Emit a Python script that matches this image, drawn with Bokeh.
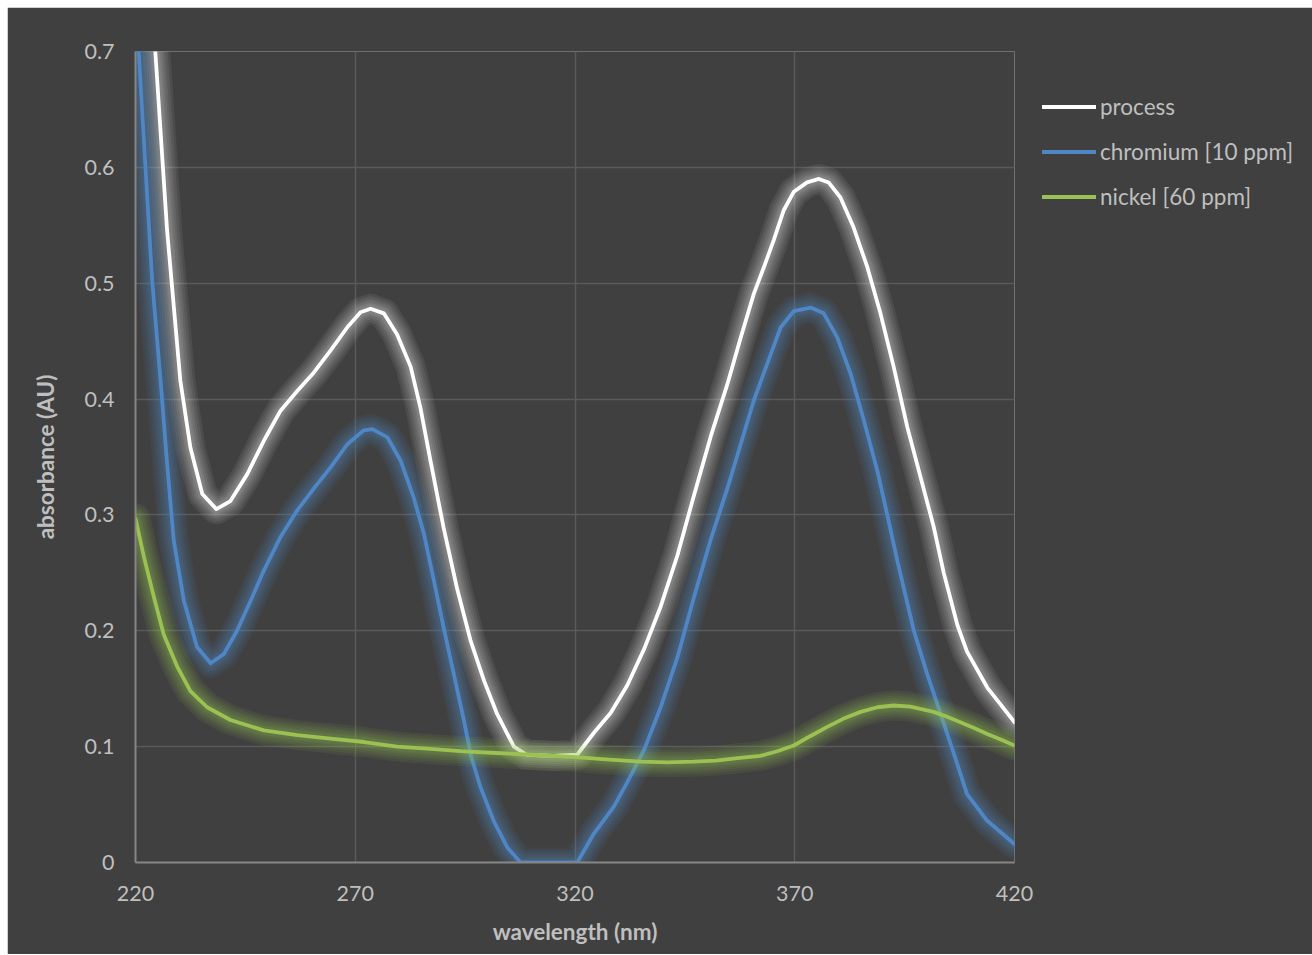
from bokeh.plotting import figure
from bokeh.models import Legend, LegendItem, FixedTicker, ColumnDataSource
from bokeh.embed import file_html
from bokeh.resources import INLINE

# ---------------- data ----------------
process_nm = [220, 222, 224.5, 227.2, 230.2, 232.5, 235.2, 238.4, 241.6, 245.4, 249.2, 253, 256.8,
              260.6, 264.4, 268.2, 271.2, 273.5, 276.5, 279.5, 282.6, 284.8, 287.1, 290.1, 293.2,
              296.2, 299.3, 302.3, 306.1, 309, 315, 320.5, 324.3, 328.1, 331.9, 335.7, 339.5, 343.3,
              347.0, 350.9, 354.6, 357.7, 360.7, 363, 365.2, 367.5, 369.8, 372.8, 375.5, 377.7,
              380.4, 383.4, 386.5, 389.5, 392.5, 395.6, 398.6, 401.6, 403.9, 407, 409.2, 413.8,
              416.5, 420]
process_abs = [0.95, 0.84, 0.70, 0.545, 0.416, 0.358, 0.318, 0.305, 0.312, 0.335, 0.364, 0.390, 0.407,
               0.423, 0.442, 0.462, 0.475, 0.478, 0.474, 0.456, 0.428, 0.393, 0.347, 0.289, 0.236,
               0.192, 0.157, 0.128, 0.100, 0.093, 0.092, 0.093, 0.112, 0.129, 0.153, 0.184, 0.221, 0.265,
               0.316, 0.368, 0.412, 0.453, 0.491, 0.514, 0.537, 0.563, 0.579, 0.587, 0.590, 0.587,
               0.574, 0.548, 0.514, 0.474, 0.428, 0.376, 0.333, 0.290, 0.250, 0.205, 0.182, 0.151,
               0.138, 0.121]

chromium_nm = [220, 220.75, 223.8, 225.7, 227.2, 228.7, 231, 234, 237.1, 240.1, 243.1, 246.2, 249.2,
               253, 256.8, 260.6, 264.4, 268.2, 271.9, 273.9, 277.3, 280.3, 283.3, 285.6, 287.9,
               290.1, 292.4, 294.7, 296.4, 298.5, 301.5, 304.6, 307.6, 320.5, 324.3, 328.8, 332,
               335.7, 339.5, 343.3, 347, 350.9, 354.6, 357.7, 360.7, 363.7, 366.8, 369.8, 373.6,
               376.6, 379.7, 382.7, 385.7, 388.8, 391.0, 393.3, 397.1, 400.1, 403.2, 406.2, 409.2,
               413.8, 420]
chromium_abs = [0.74, 0.698, 0.502, 0.416, 0.344, 0.278, 0.226, 0.186, 0.172, 0.180, 0.200, 0.226, 0.252,
                0.281, 0.304, 0.323, 0.341, 0.361, 0.373, 0.374, 0.367, 0.347, 0.315, 0.284, 0.243,
                0.203, 0.163, 0.123, 0.091, 0.065, 0.036, 0.013, 0.0, 0.0, 0.025, 0.048, 0.070,
                0.097, 0.134, 0.177, 0.228, 0.279, 0.322, 0.361, 0.399, 0.430, 0.462, 0.476, 0.479,
                0.474, 0.453, 0.422, 0.382, 0.338, 0.301, 0.261, 0.200, 0.163, 0.128, 0.094, 0.059,
                0.036, 0.016]

nickel_nm = [220, 221.9, 224.2, 226.4, 229.5, 232.5, 236.3, 241.6, 249.2, 256.8, 264.4, 272, 279.5,
             287.1, 294.7, 302, 309.9, 320.1, 327, 334.9, 341, 347, 352, 357, 362.2, 366, 369.8,
             373.5, 377.4, 381, 385, 388.8, 392.5, 396.3, 401.6, 404.5, 407.7, 410.8, 413.8, 417, 420]
nickel_abs = [0.297, 0.264, 0.229, 0.197, 0.169, 0.148, 0.134, 0.123, 0.114, 0.110, 0.107, 0.104, 0.100,
              0.098, 0.096, 0.0945, 0.093, 0.091, 0.089, 0.087, 0.0865, 0.087, 0.088, 0.090, 0.092,
              0.096, 0.101, 0.109, 0.117, 0.124, 0.130, 0.134, 0.1355, 0.1346, 0.130, 0.126, 0.121,
              0.116, 0.111, 0.106, 0.101]

series_names = ["process", "chromium [10 ppm]", "nickel [60 ppm]"]
series_colors = ["#ffffff", "#4f86c6", "#9bc152"]

x_ticks = [220, 270, 320, 370, 420]
y_ticks = [0, 0.1, 0.2, 0.3, 0.4, 0.5, 0.6, 0.7]
y_tick_labels = ["0", "0.1", "0.2", "0.3", "0.4", "0.5", "0.6", "0.7"]

x_title = "wavelength (nm)"
y_title = "absorbance (AU)"

# ---------------- figure ----------------
BG = "#404040"
FONT = "Lato"
TXT = "#bfbfbf"

p = figure(frame_width=879, frame_height=811, output_backend="svg", toolbar_location=None,
           x_range=(220, 420), y_range=(0, 0.7),
           min_border_left=128, min_border_right=297, min_border_top=44, min_border_bottom=92)
p.margin = (7, 0, 0, 7)
p.background_fill_color = BG
p.border_fill_color = BG
p.outline_line_color = None

p.xgrid.ticker = FixedTicker(ticks=x_ticks)
p.ygrid.ticker = FixedTicker(ticks=y_ticks)
p.xgrid.grid_line_color = "#5a5a5a"
p.ygrid.grid_line_color = "#5a5a5a"
p.xgrid.grid_line_width = 1.5
p.ygrid.grid_line_width = 1.5

for ax in (p.xaxis[0], p.yaxis[0]):
    ax.axis_line_color = "#868686"
    ax.axis_line_width = 2
    ax.major_tick_line_color = None
    ax.minor_tick_line_color = None
    ax.major_tick_out = 0
    ax.major_tick_in = 0
    ax.major_label_text_font = FONT
    ax.major_label_text_font_size = "21.5px"
    ax.major_label_text_color = TXT
    ax.axis_label_text_font = FONT
    ax.axis_label_text_font_size = "22.5px"
    ax.axis_label_text_font_style = "bold"
    ax.axis_label_text_color = TXT

p.xaxis[0].ticker = FixedTicker(ticks=x_ticks)
p.yaxis[0].ticker = FixedTicker(ticks=y_ticks)
p.yaxis[0].major_label_overrides = {t: l for t, l in zip(y_ticks, y_tick_labels)}
p.xaxis[0].major_label_standoff = 23
p.yaxis[0].major_label_standoff = 21
p.xaxis[0].axis_label = x_title
p.yaxis[0].axis_label = y_title
p.xaxis[0].axis_label_standoff = 14
p.yaxis[0].axis_label_standoff = 22

# ---------------- series with soft glow ----------------
glow_widths = [30, 25, 20, 16, 12, 9]
data = [(process_nm, process_abs), (chromium_nm, chromium_abs), (nickel_nm, nickel_abs)]
glow_alpha = [0.07, 0.085, 0.085]
main_renderers = []
for (xs, ys), col, ga in zip(data, series_colors, glow_alpha):
    src = ColumnDataSource(dict(x=xs, y=ys))
    for w in glow_widths:
        p.line("x", "y", source=src, line_color=col, line_alpha=ga, line_width=w,
               line_join="round", line_cap="round")
    r = p.line("x", "y", source=src, line_color=col, line_width=3.8,
               line_join="round", line_cap="round")
    main_renderers.append(r)

legend = Legend(items=[LegendItem(label=n, renderers=[r]) for n, r in zip(series_names, main_renderers)],
                location=(28, 643))
legend.background_fill_alpha = 0
legend.border_line_alpha = 0
legend.padding = 0
legend.margin = 0
legend.spacing = 0
legend.glyph_width = 54
legend.glyph_height = 45
legend.label_height = 45
legend.label_standoff = 4
legend.label_text_font = FONT
legend.label_text_font_size = "22.5px"
legend.label_text_color = TXT
legend.label_text_baseline = "middle"
p.add_layout(legend, "right")

open("out.html", "w").write(file_html(p, INLINE))
